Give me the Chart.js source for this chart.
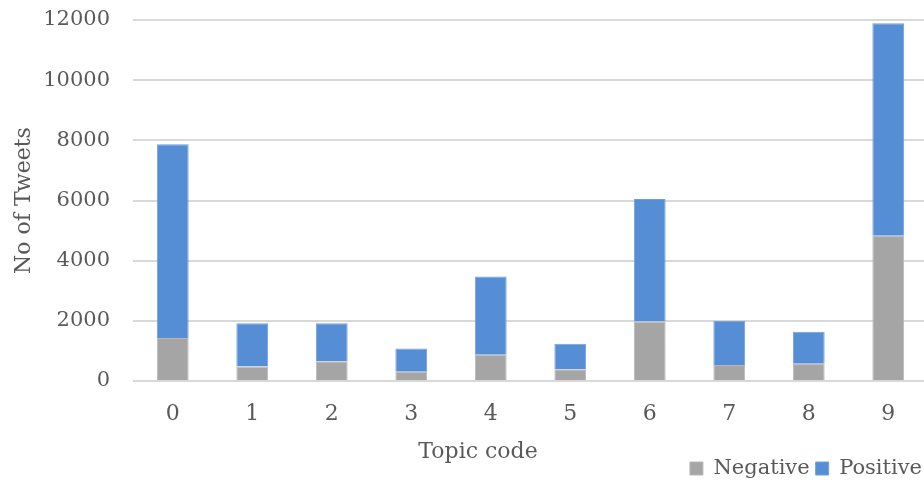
<!DOCTYPE html>
<html>
<head>
<meta charset="utf-8">
<script src="https://cdn.jsdelivr.net/npm/chart.js@4.4.1/dist/chart.umd.min.js"></script>
<style>
  html, body { margin: 0; padding: 0; background: #fff; overflow: hidden; }
  #wrap { width: 928px; height: 489px; }
</style>
</head>
<body>
<div id="wrap"><canvas id="chart"></canvas></div>
<script>
// topic codes along the x axis
var topics = ['0', '1', '2', '3', '4', '5', '6', '7', '8', '9'];
// tweet counts per topic, split by sentiment (stacked)
var negative = [1430, 480, 660, 310, 870, 390, 1980, 530, 570, 4830];
var positive = [6440, 1440, 1260, 770, 2600, 850, 4070, 1470, 1070, 7060];
var yTicks = [0, 2000, 4000, 6000, 8000, 10000, 12000];

var FONT = 'DejaVu Serif';
var INK = '#595959';

// x axis title sits on its own, a bit left of the plot centre, level with the legend
var xTitle = {
  id: 'xTitle',
  afterDraw: function(chart){
    var c = chart.ctx;
    c.save();
    c.font = '22px "' + FONT + '"';
    c.fillStyle = INK;
    c.textAlign = 'center';
    c.textBaseline = 'middle';
    c.fillText('Topic code', 478, 452);
    c.restore();
  }
};

new Chart(document.getElementById('chart').getContext('2d'), {
  type: 'bar',
  data: {
    labels: topics,
    datasets: [
      { label: 'Negative', data: negative, backgroundColor: '#a5a5a5', borderColor: '#b8b8b8', borderWidth: 1 },
      { label: 'Positive', data: positive, backgroundColor: '#558ed5', borderColor: '#6fa0dc', borderWidth: 1 }
    ]
  },
  options: {
    responsive: true,
    maintainAspectRatio: false,
    animation: false,
    layout: { padding: 0 },
    datasets: { bar: { categoryPercentage: 1, barPercentage: 0.4 } },
    plugins: {
      tooltip: { enabled: false },
      legend: {
        position: 'bottom',
        align: 'end',
        labels: {
          color: INK,
          font: { family: FONT, size: 21 },
          boxWidth: 13,
          boxHeight: 13,
          padding: 6
        }
      }
    },
    scales: {
      x: {
        stacked: true,
        grid: { display: false },
        border: { display: false },
        ticks: { color: INK, font: { family: FONT, size: 22 }, padding: 12 },
        afterFit: function(s){ s.height = 71; }
      },
      y: {
        stacked: true,
        min: 0,
        max: 12000,
        afterBuildTicks: function(s){ s.ticks = yTicks.map(function(v){ return { value: v }; }); },
        afterFit: function(s){ s.width = 133; s.paddingTop = 20; },
        grid: { color: '#d9d9d9', lineWidth: 2, drawTicks: false },
        border: { display: false },
        ticks: {
          color: INK,
          font: { family: FONT, size: 21 },
          padding: 23,
          callback: function(v){ return String(v); }
        },
        title: {
          display: true,
          text: 'No of Tweets',
          color: INK,
          font: { family: FONT, size: 22, weight: 'normal' },
          padding: { top: 11, bottom: 10 }
        }
      }
    }
  },
  plugins: [xTitle]
});
</script>
</body>
</html>
